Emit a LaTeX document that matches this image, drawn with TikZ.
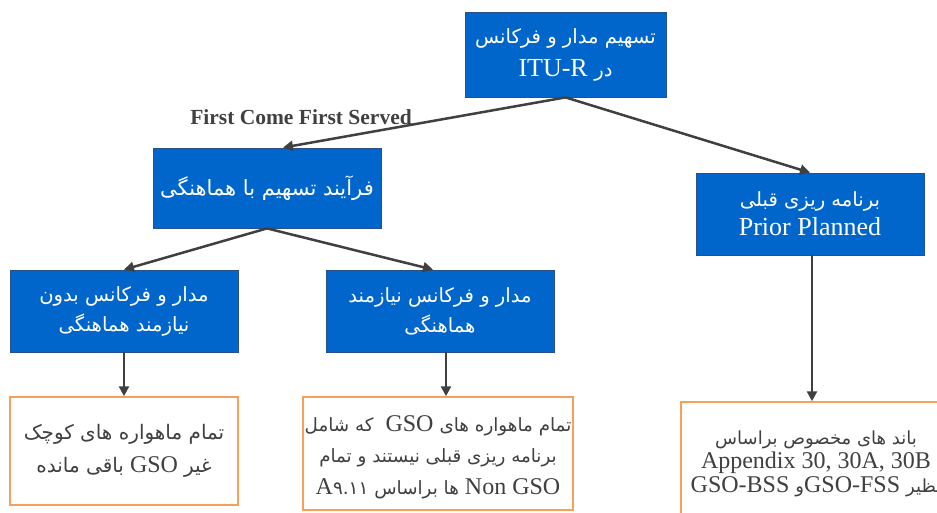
\documentclass[tikz,border=0pt]{standalone}
\usepackage{fontspec}
\setmainfont{Liberation Serif}
\newfontfamily\fa[Script=Arabic]{DejaVu Sans}
\TeXXeTstate=1
\usetikzlibrary{arrows.meta}
\definecolor{boxblue}{RGB}{0,102,204}
\definecolor{boxedge}{RGB}{40,80,140}
\definecolor{boxorange}{RGB}{247,160,90}
\definecolor{txtgray}{RGB}{64,64,64}
\definecolor{arrowgray}{RGB}{64,64,64}
\newcommand\per[1]{{\fa\fontsize{19.6}{30}\selectfont #1}}
\newcommand\perb[1]{{\fa\fontsize{21}{30}\selectfont #1}}
\newcommand\pero[1]{{\fa\fontsize{20}{30}\selectfont #1}}
\newcommand\perm[1]{{\fa\fontsize{18.3}{30}\selectfont #1}}
\newcommand\pers[1]{{\fa\fontsize{18}{24}\selectfont #1}}
\begin{document}
\begin{tikzpicture}[x=1pt,y=-1pt,
  bluebox/.style={draw=boxedge, line width=0.8pt, fill=boxblue, text=white, align=center, inner sep=0pt},
  orangebox/.style={draw=boxorange, line width=1.5pt, fill=white, text=txtgray, align=center, inner sep=0pt},
  conn/.style={draw=arrowgray, line width=2.5pt, -{Triangle[length=10pt,width=10pt]}},
  lbl/.style={text=txtgray, font=\bfseries\fontsize{21.5}{24}\selectfont, inner sep=0pt}
]
\useasboundingbox (0,0) rectangle (937,513);
\clip (0,0) rectangle (937,513);

% blue boxes
\node[bluebox, minimum width=201pt, minimum height=85pt, font=\fontsize{26}{33}\selectfont] (b1) at (565.5,54.5)
  {\beginR\per{تسهیم مدار و فرکانس}\endR\\ \beginR\per{در} \beginL ITU-R\endL\endR};
\node[bluebox, minimum width=228pt, minimum height=80pt, font=\fontsize{26}{30}\selectfont] (b2) at (267,188)
  {\beginR\perb{فرآیند تسهیم با هماهنگی}\endR};
\node[bluebox, minimum width=228pt, minimum height=82pt, font=\fontsize{26}{29}\selectfont] (b3) at (810,214)
  {\beginR\per{برنامه ریزی قبلی}\endR\\ Prior Planned};
\node[bluebox, minimum width=228pt, minimum height=82pt, font=\fontsize{26}{30}\selectfont] (b4) at (124,311)
  {\beginR\per{مدار و فرکانس بدون}\endR\\ \beginR\per{نیازمند هماهنگی}\endR};
\node[bluebox, minimum width=228pt, minimum height=82pt, font=\fontsize{26}{30}\selectfont] (b5) at (440,311)
  {\beginR\per{مدار و فرکانس نیازمند}\endR\\ \beginR\per{هماهنگی}\endR};

% orange boxes
\node[orangebox, minimum width=228pt, minimum height=108pt, font=\fontsize{24}{33}\selectfont] (o1) at (124,451)
  {\beginR\pero{تمام ماهواره های کوچک}\endR\\ \beginR\pero{غیر} \beginL GSO\endL\ \pero{باقی مانده}\endR};
\node[orangebox, minimum width=270pt, minimum height=113pt] (o2) at (438,453.5) {};
\node[text=txtgray, align=center, inner sep=0pt, font=\fontsize{24}{31.5}\selectfont] (o2t) at (438,457)
  {\beginR\perm{تمام ماهواره های} \beginL GSO\endL\ \ \perm{که شامل}\endR\\
   \beginR\perm{برنامه ریزی قبلی نیستند و تمام}\endR\\
   \beginR\beginL Non GSO\endL\ \perm{ها براساس} \beginL A\perm{۹.۱۱}\endL\endR};
\node[orangebox, minimum width=269pt, minimum height=128pt] (o3) at (815.5,466) {};
\node[text=txtgray, align=center, inner sep=0pt, font=\fontsize{24}{24}\selectfont] (o3t) at (816,464)
  {\beginR\pers{باند های مخصوص براساس}\endR\\ Appendix 30, 30A, 30B\\
   \beginR\pers{نظیر} \beginL GSO-FSS\endL\pers{و} \beginL GSO-BSS\endL\endR};

% connectors
\draw[conn] (b1.south) -- ([xshift=16pt]b2.north);
\draw[conn] (b1.south) -- (b3.north);
\draw[conn] (b2.south) -- (b4.north);
\draw[conn] (b2.south) -- ([xshift=-7pt]b5.north);
\draw[conn] (b4.south) -- (o1.north);
\draw[conn] ([xshift=6pt]b5.south) -- ([xshift=6pt]b5.south |- o2.north);
\draw[conn] ([xshift=2pt]b3.south) -- ([xshift=2pt]b3.south |- o3.north);

\node[lbl] (fcfs) at (301,117) {First Come First Served};
\end{tikzpicture}
\end{document}
